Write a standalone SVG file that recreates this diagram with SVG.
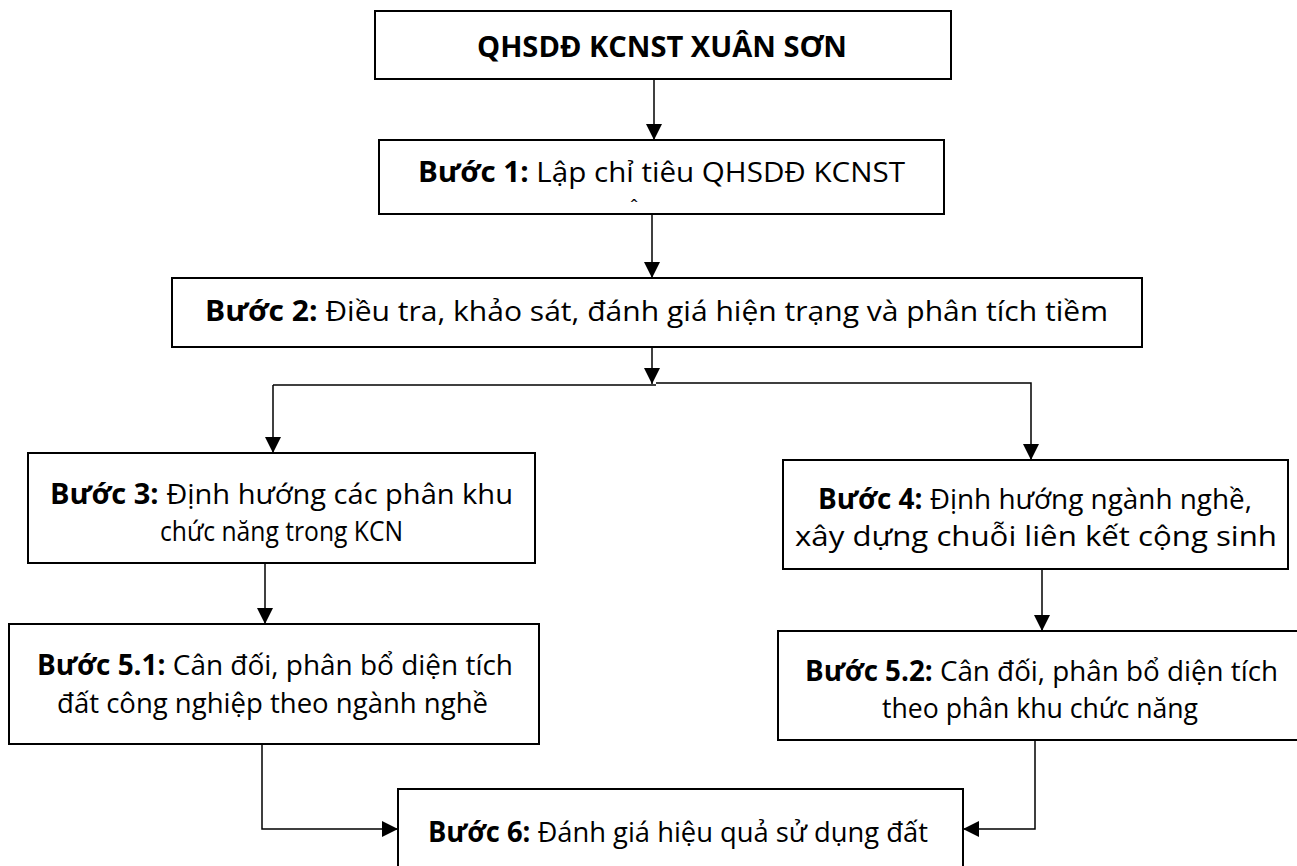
<svg xmlns="http://www.w3.org/2000/svg" width="1297" height="866" viewBox="0 0 1297 866">
<defs>
<marker id="ah" viewBox="0 0 16 16" refX="16" refY="8" markerWidth="16" markerHeight="16" markerUnits="userSpaceOnUse" orient="auto">
<path d="M0,0 L16,8 L0,16 Z" fill="#000"/>
</marker>
<style>
.box{fill:#fff;stroke:#000;stroke-width:2}
.t{font-family:"Open Sans","Noto Sans","Liberation Sans",sans-serif;font-size:28px;fill:#000}
.b{font-weight:bold}
.c{fill:none;stroke:#000;stroke-width:1.5}
</style>
</defs>
<rect width="1297" height="866" fill="#fff"/>
<g id="connectors">
<path class="c" d="M654,79 V140" marker-end="url(#ah)"/>
<path class="c" d="M652,214 V278" marker-end="url(#ah)"/>
<path class="c" d="M652,347 V384" marker-end="url(#ah)"/>
<path class="c" d="M273,385 H656"/>
<path class="c" d="M656,383 H1031 V460" marker-end="url(#ah)"/>
<path class="c" d="M273,385 V453" marker-end="url(#ah)"/>
<path class="c" d="M265,563 V624" marker-end="url(#ah)"/>
<path class="c" d="M1042,569 V631" marker-end="url(#ah)"/>
<path class="c" d="M262,744 V829 H398" marker-end="url(#ah)"/>
<path class="c" d="M1035,740 V829 H963" marker-end="url(#ah)"/>
</g>
<g id="n0">
<rect class="box" x="375" y="11" width="576" height="68"/>
<text class="t b" x="477" y="57" textLength="370" lengthAdjust="spacingAndGlyphs">QHSDĐ KCNST XUÂN SƠN</text>
</g>
<g id="n1">
<rect class="box" x="379" y="140" width="565" height="74"/>
<text class="t" x="418" y="182" textLength="487" lengthAdjust="spacingAndGlyphs"><tspan class="b">Bước 1:</tspan> Lập chỉ tiêu QHSDĐ KCNST</text>
<text class="t" x="630" y="214" style="font-size:20px">ˆ</text>
</g>
<g id="n2">
<rect class="box" x="172" y="278" width="970" height="69"/>
<text class="t" x="205" y="321" textLength="903" lengthAdjust="spacingAndGlyphs"><tspan class="b">Bước 2:</tspan> Điều tra, khảo sát, đánh giá hiện trạng và phân tích tiềm</text>
</g>
<g id="n3">
<rect class="box" x="28" y="453" width="507" height="110"/>
<text class="t" x="50" y="504" textLength="463" lengthAdjust="spacingAndGlyphs"><tspan class="b">Bước 3:</tspan> Định hướng các phân khu</text>
<text class="t" x="160" y="541" textLength="243" lengthAdjust="spacingAndGlyphs">chức năng trong KCN</text>
</g>
<g id="n4">
<rect class="box" x="783" y="460" width="505" height="109"/>
<text class="t" x="818" y="509" textLength="434" lengthAdjust="spacingAndGlyphs"><tspan class="b">Bước 4:</tspan> Định hướng ngành nghề,</text>
<text class="t" x="795" y="546" textLength="482" lengthAdjust="spacingAndGlyphs">xây dựng chuỗi liên kết cộng sinh</text>
</g>
<g id="n51">
<rect class="box" x="9" y="624" width="530" height="120"/>
<text class="t" x="37" y="675" textLength="476" lengthAdjust="spacingAndGlyphs"><tspan class="b">Bước 5.1:</tspan> Cân đối, phân bổ diện tích</text>
<text class="t" x="57" y="713" textLength="431" lengthAdjust="spacingAndGlyphs">đất công nghiệp theo ngành nghề</text>
</g>
<g id="n52">
<rect class="box" x="778" y="631" width="530" height="109"/>
<text class="t" x="805" y="681" textLength="473" lengthAdjust="spacingAndGlyphs"><tspan class="b">Bước 5.2:</tspan> Cân đối, phân bổ diện tích</text>
<text class="t" x="882" y="718" textLength="316" lengthAdjust="spacingAndGlyphs">theo phân khu chức năng</text>
</g>
<g id="n6">
<rect class="box" x="398" y="789" width="565" height="90"/>
<text class="t" x="428" y="842" textLength="500" lengthAdjust="spacingAndGlyphs"><tspan class="b">Bước 6:</tspan> Đánh giá hiệu quả sử dụng đất</text>
</g>
</svg>
